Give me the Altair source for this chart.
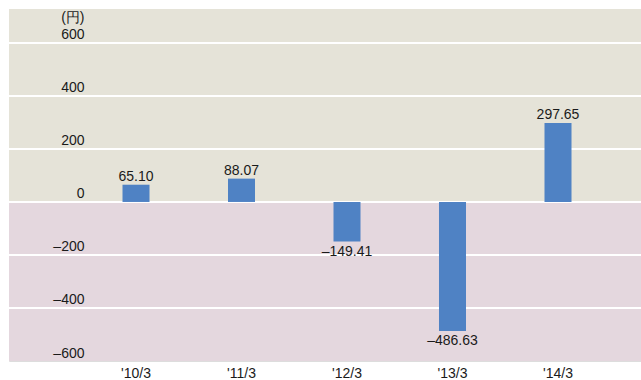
import altair as alt
import pandas as pd

categories = ["'10/3", "'11/3", "'12/3", "'13/3", "'14/3"]
values = [65.10, 88.07, -149.41, -486.63, 297.65]
labels = ["65.10", "88.07", "–149.41", "–486.63", "297.65"]
tick_values = [-600, -400, -200, 0, 200, 400, 600]
grid_values = [-400, -200, 0, 200, 400, 600]
bands_lo = [0, -600]
bands_hi = [728, 0]
band_colors = ["#E5E3D8", "#E4D7DE"]

FONT = "Liberation Sans"
FS = 14
TXT = "#1a1a1a"
ymin, ymax = -600, 728

bars_df = pd.DataFrame({"cat": categories, "v": values, "lab": labels})
bands_df = pd.DataFrame({"lo": bands_lo, "hi": bands_hi, "c": band_colors})
grid_df = pd.DataFrame({"g": grid_values})

yscale = alt.Scale(domain=[ymin, ymax], nice=False, zero=False)
label_expr = "datum.value < 0 ? '–' + format(-datum.value, 'd') : format(datum.value, 'd')"

yaxis = alt.Axis(values=tick_values, grid=False, ticks=False, tickSize=0,
                 domain=False, labelPadding=-75, labelAlign="right",
                 labelBaseline="bottom", labelOffset=-1,
                 labelExpr=label_expr, zindex=2,
                 labelFont=FONT, labelFontSize=FS, labelColor=TXT,
                 title="(円)", titleAngle=0, titleX=75, titleY=8,
                 titleAlign="right", titleBaseline="middle",
                 titleFont=FONT, titleFontSize=FS, titleFontWeight="normal",
                 titleColor=TXT)

bands = alt.Chart(bands_df).mark_rect().encode(
    y=alt.Y("lo:Q", scale=yscale, axis=yaxis),
    y2="hi:Q",
    color=alt.Color("c:N", scale=None),
)

grid = alt.Chart(grid_df).mark_rule(color="white", strokeWidth=2).encode(
    y=alt.Y("g:Q", scale=yscale, axis=yaxis)
)

xenc = alt.X("cat:N", sort=categories,
             scale=alt.Scale(range=[113.5, 562.5], paddingInner=0.744, paddingOuter=0),
             axis=alt.Axis(title=None, ticks=False, domain=False, labelAngle=0,
                           labelPadding=5, labelFont=FONT, labelFontSize=FS,
                           labelColor=TXT, zindex=2))

bars = alt.Chart(bars_df).mark_bar(color="#4F82C4").encode(
    x=xenc,
    y=alt.Y("v:Q", scale=yscale, axis=yaxis),
)

pos_text = alt.Chart(bars_df).transform_filter("datum.v >= 0").mark_text(
    baseline="bottom", dy=-1, font=FONT, fontSize=FS, color=TXT
).encode(x=xenc, y=alt.Y("v:Q", scale=yscale, axis=yaxis), text="lab:N")

neg_text = alt.Chart(bars_df).transform_filter("datum.v < 0").mark_text(
    baseline="top", dy=3, font=FONT, fontSize=FS, color=TXT
).encode(x=xenc, y=alt.Y("v:Q", scale=yscale, axis=yaxis), text="lab:N")

chart = alt.layer(bands, grid, bars, pos_text, neg_text).properties(
    width=632, height=352,
    autosize=alt.AutoSizeParams(type="none"),
    padding={"left": 9, "top": 9, "right": 0, "bottom": 19},
).configure_view(stroke=None).configure(background="white")

chart.save("out.html", embed_options={"renderer": "svg", "actions": False})
